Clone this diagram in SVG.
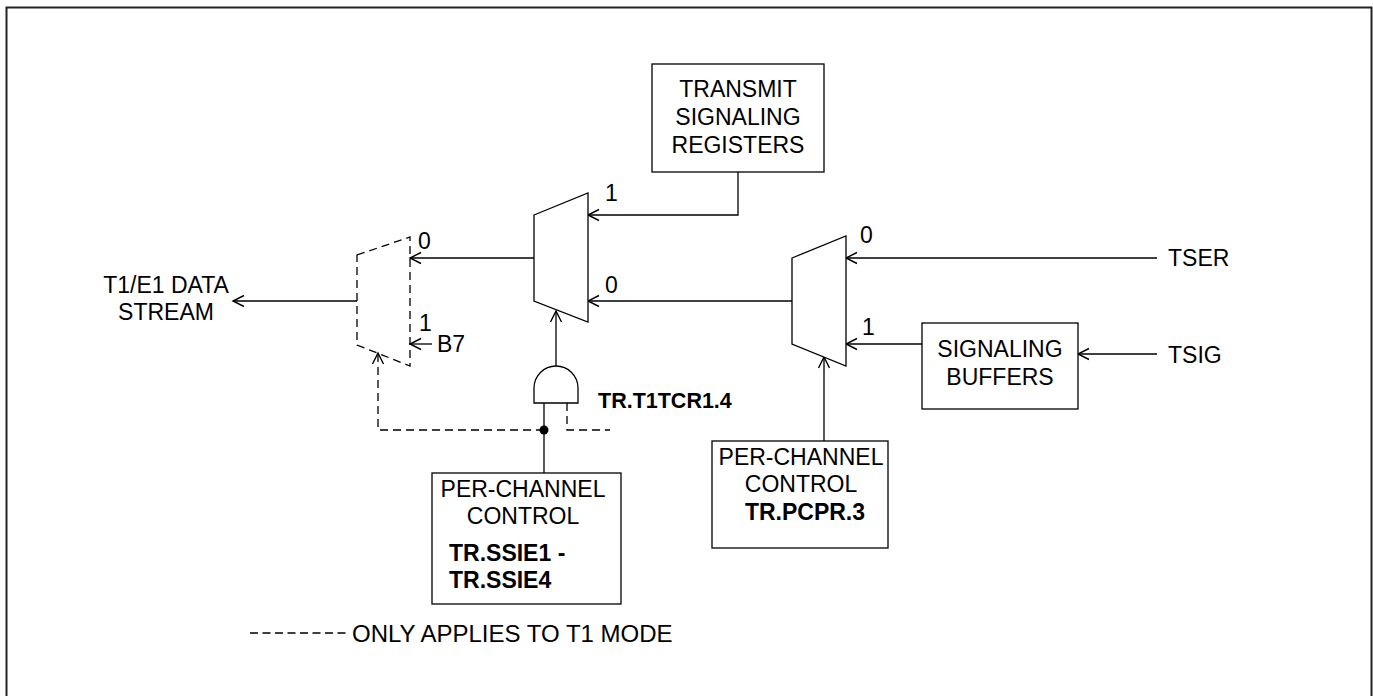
<svg xmlns="http://www.w3.org/2000/svg" width="1373" height="696" viewBox="0 0 1373 696">
<style>
text{font-family:"Liberation Sans",Arial,sans-serif;font-size:23px;fill:#000}
.b{font-weight:bold}
.m{text-anchor:middle}
.d{font-size:23px}
.box{fill:#fff;stroke:#000;stroke-width:1.3}
.ln{fill:none;stroke:#000;stroke-width:1.3}
.dash{fill:none;stroke:#000;stroke-width:1.3;stroke-dasharray:8 5}
</style>
<defs>
<marker id="arr" markerUnits="userSpaceOnUse" markerWidth="16" markerHeight="16" viewBox="-13 -8 16 16" refX="0" refY="0" orient="auto">
<path d="M-11,-5.5 L0,0 L-11,5.5" fill="none" stroke="#000" stroke-width="1.4"/>
</marker>
</defs>
<rect x="6.5" y="7.5" width="1365" height="700" fill="#fff" stroke="#222" stroke-width="2"/>

<g id="connectors">
<path class="ln" d="M534,258 H410" marker-end="url(#arr)"/>
<path class="ln" d="M738,172 V215 H588" marker-end="url(#arr)"/>
<path class="ln" d="M792,301 H588" marker-end="url(#arr)"/>
<path class="ln" d="M1157,258 H846" marker-end="url(#arr)"/>
<path class="ln" d="M922,344 H846" marker-end="url(#arr)"/>
<path class="ln" d="M1157,354 H1078" marker-end="url(#arr)"/>
<path class="ln" d="M824,441 V357" marker-end="url(#arr)"/>
<path class="ln" d="M556,366 V311" marker-end="url(#arr)"/>
<path class="ln" d="M357,301 H233" marker-end="url(#arr)"/>
<path class="ln" d="M432,344 H410" marker-end="url(#arr)"/>
<path class="ln" d="M544,403 V473"/>
<path class="dash" d="M544,430 H378 V353" marker-end="url(#arr)"/>
<path class="dash" d="M567,403 V430 H610"/>
<circle cx="544" cy="430" r="4.5" fill="#000"/>
</g>

<g id="tx-sig-reg">
<rect class="box" x="652" y="64" width="172" height="108"/>
<text class="m" x="738" y="97">TRANSMIT</text>
<text class="m" x="738" y="125">SIGNALING</text>
<text class="m" x="738" y="153">REGISTERS</text>
</g>

<g id="mux1">
<polygon class="box" points="534,215 588,193 588,322 534,301"/>
<text class="d" x="605" y="201">1</text>
<text class="d" x="605" y="293">0</text>
</g>

<g id="mux2">
<polygon class="box" points="792,258 846,236 846,366 792,344"/>
<text class="d" x="860" y="243">0</text>
<text class="d" x="862" y="335">1</text>
</g>

<g id="mux-dashed">
<polygon class="dash" points="357,255 410,237 410,366 357,345"/>
<text class="d" x="418" y="249">0</text>
<text class="d" x="419" y="331">1</text>
<text x="437" y="352">B7</text>
</g>

<g id="and-gate">
<path class="box" d="M534,403 V388 A22,22 0 0 1 578,388 V403 Z"/>
<text class="b" x="598" y="408" style="font-size:21.5px">TR.T1TCR1.4</text>
</g>

<g id="sig-buffers">
<rect class="box" x="922" y="323" width="156" height="86"/>
<text class="m" x="1000" y="357">SIGNALING</text>
<text class="m" x="1000" y="385">BUFFERS</text>
</g>

<g id="tser"><text x="1168" y="266">TSER</text></g>
<g id="tsig"><text x="1168" y="363">TSIG</text></g>

<g id="data-stream">
<text class="m" x="166" y="293">T1/E1 DATA</text>
<text class="m" x="166" y="320">STREAM</text>
</g>

<g id="pcc-ssie">
<rect class="box" x="432" y="473" width="189" height="131"/>
<text class="m" x="523" y="497">PER-CHANNEL</text>
<text class="m" x="523" y="524">CONTROL</text>
<text class="b" x="449" y="561">TR.SSIE1 -</text>
<text class="b" x="449" y="588">TR.SSIE4</text>
</g>

<g id="pcc-pcpr">
<rect class="box" x="712" y="441" width="176" height="107"/>
<text class="m" x="801" y="465">PER-CHANNEL</text>
<text class="m" x="801" y="492">CONTROL</text>
<text class="b m" x="805" y="520">TR.PCPR.3</text>
</g>

<g id="legend">
<path class="dash" d="M250,633 H346" style="stroke-dasharray:8 4.5"/>
<text x="352" y="642" style="font-size:24px">ONLY APPLIES TO T1 MODE</text>
</g>
</svg>
